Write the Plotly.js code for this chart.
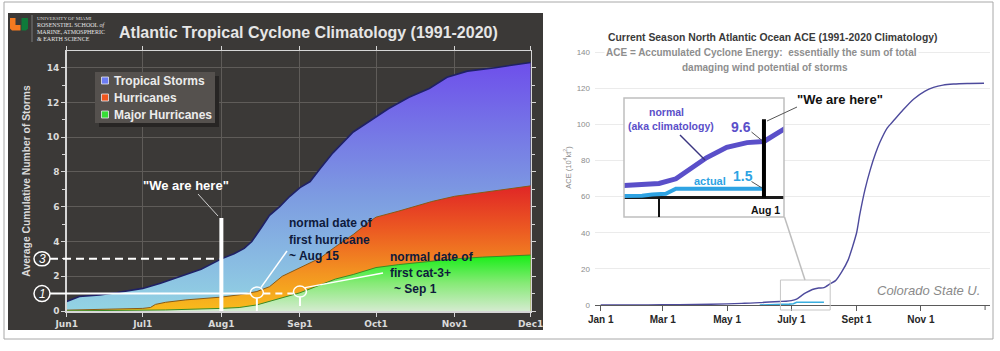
<!DOCTYPE html>
<html><head><meta charset="utf-8">
<script src="https://cdn.plot.ly/plotly-3.0.1.min.js"></script>
<style>html,body{margin:0;padding:0;background:#fff;}#chart{width:1000px;height:351px;}</style>
</head><body><div id="chart"></div>
<script>
// ---------------- Left chart: average cumulative number of storms (1991-2020) ----------------
const seriesNames = ['Tropical Storms', 'Hurricanes', 'Major Hurricanes'];
const tsDates = ['2021-06-01','2021-06-06','2021-06-14','2021-06-21','2021-07-01','2021-07-08','2021-07-16','2021-07-24','2021-08-01','2021-08-06','2021-08-10','2021-08-13','2021-08-17','2021-08-20','2021-08-24','2021-08-28','2021-09-01','2021-09-05','2021-09-09','2021-09-14','2021-09-22','2021-09-30','2021-10-06','2021-10-14','2021-10-22','2021-10-29','2021-11-06','2021-11-17','2021-12-01'];
const tsValues = [0.55,0.83,0.93,1.06,1.3,1.6,2.0,2.4,3.0,3.3,3.6,4.0,4.85,5.5,6.0,6.6,7.1,7.45,8.2,9.1,10.3,11.1,11.65,12.3,12.8,13.45,13.8,14.0,14.3];
const hurDates = ['2021-06-01','2021-06-20','2021-07-01','2021-07-04','2021-07-06','2021-07-10','2021-07-18','2021-08-01','2021-08-08','2021-08-15','2021-08-20','2021-08-25','2021-09-01','2021-09-09','2021-09-15','2021-09-22','2021-09-28','2021-10-01','2021-10-10','2021-10-23','2021-11-01','2021-11-15','2021-11-25','2021-12-01'];
const hurValues = [0.05,0.1,0.15,0.2,0.38,0.5,0.64,0.8,0.93,1.12,1.4,2.0,2.5,3.05,3.7,4.4,5.1,5.4,5.75,6.3,6.6,6.9,7.1,7.2];
const majDates = ['2021-06-01','2021-07-01','2021-07-10','2021-08-01','2021-08-08','2021-08-15','2021-08-23','2021-09-01','2021-09-09','2021-09-15','2021-09-22','2021-10-01','2021-10-10','2021-10-23','2021-11-01','2021-11-12','2021-11-25','2021-12-01'];
const majValues = [0.01,0.03,0.06,0.15,0.2,0.35,0.68,1.05,1.5,1.84,2.1,2.5,2.67,2.86,3.0,3.1,3.2,3.22];
const seriesKeyColors = ['#6c7cf4','#f0561e','#36de36'];
const leftTickDates = ['2021-06-01','2021-07-01','2021-08-01','2021-09-01','2021-10-01','2021-11-01','2021-12-01'];
const leftTickLabels = ['Jun1','Jul1','Aug1','Sep1','Oct1','Nov1','Dec1'];
const weAreHereDate = '2021-08-01';
const firstHurricaneDate = '2021-08-15';
const firstMajorDate = '2021-09-01';

// ---------------- Right chart: ACE (1991-2020 climatology) ----------------
const aceNormalDates = ['2021-01-01','2021-02-01','2021-03-01','2021-04-01','2021-05-01','2021-05-15','2021-06-01','2021-06-10','2021-06-20','2021-06-26','2021-07-01','2021-07-06','2021-07-11','2021-07-15','2021-07-21','2021-07-27','2021-08-01','2021-08-07','2021-08-12','2021-08-18','2021-08-24','2021-08-28','2021-09-01','2021-09-04','2021-09-09','2021-09-14','2021-09-19','2021-09-23','2021-09-30','2021-10-06','2021-10-15','2021-10-25','2021-11-05','2021-11-13','2021-11-22','2021-12-02','2021-12-15','2021-12-31'];
const aceNormalValues = [0,0.05,0.1,0.25,0.6,0.9,1.3,1.7,1.95,2.1,2.4,3.2,5.3,6.8,8.6,9.4,9.6,11.8,13.5,18.5,25,32,40,50,64,75,84,90,98,102,108,114,118.5,120.5,121.8,122.4,122.7,122.8];
const aceActualDates = ['2021-06-01','2021-06-19','2021-06-26','2021-06-29','2021-07-03','2021-07-06','2021-08-01'];
const aceActualValues = [0,0.1,0.3,0.5,0.65,1.5,1.5];
const rightTickDates = ['2021-01-01','2021-03-01','2021-05-01','2021-07-01','2021-09-01','2021-11-01'];
const rightTickLabels = ['Jan 1','Mar 1','May 1','July 1','Sept 1','Nov 1'];
const rightEndTickDate = '2022-01-01';
const rightYStep = 20, rightYMaxTick = 140;
const normalNow = 9.6, actualNow = 1.5;

// ---------------- geometry helpers ----------------
const W = 1000, H = 351;
const px = x => x / W;
const py = y => 1 - y / H;
function ms(s){ return Date.parse(s.length === 10 ? s + 'T00:00:00Z' : s.replace(' ', 'T') + ':00Z'); }
const LBOX = {l:66.7, r:530.7, b:311, t:51};
const LXR = ['2021-06-01','2021-12-01'], LYR = [0, 14.96];
const RBOX = {l:595, r:990, b:305, t:30};
const RXR = ['2020-12-26 14:00','2022-01-05 16:00'], RYR = [0, 152.3];
const IBOX = {l:624, r:784, b:217, t:98};
const IXR = ['2021-06-20 16:00','2021-08-06 22:00'], IYR = [-3.34, 17.04];
const lx = d => LBOX.l + (ms(d)-ms(LXR[0]))/(ms(LXR[1])-ms(LXR[0]))*(LBOX.r-LBOX.l);
const ly = v => LBOX.b - (v-LYR[0])/(LYR[1]-LYR[0])*(LBOX.b-LBOX.t);
const rx = d => RBOX.l + (ms(d)-ms(RXR[0]))/(ms(RXR[1])-ms(RXR[0]))*(RBOX.r-RBOX.l);
const ry = v => RBOX.b - (v-RYR[0])/(RYR[1]-RYR[0])*(RBOX.b-RBOX.t);

const F_SANS = 'Liberation Sans, Arial, sans-serif';
const F_VERD = 'DejaVu Sans, Verdana, sans-serif';
const F_SERIF = 'Liberation Serif, Times New Roman, serif';
const PURPLE = '#5a4fc9', LBLUE = '#2ea3e3';

// ---------------- traces ----------------
const traces = [
  {x: tsDates, y: tsValues, type:'scatter', mode:'lines', fill:'tozeroy', name: seriesNames[0],
   line:{color:'#1f2166', width:1.6},
   fillgradient:{type:'vertical', start:0, stop:14.3, colorscale:[[0,'#93d4e3'],[0.45,'#7d9de1'],[1,'#6e4feb']]},
   xaxis:'x', yaxis:'y', showlegend:false, hoverinfo:'skip'},
  {x: hurDates, y: hurValues, type:'scatter', mode:'lines', fill:'tozeroy', name: seriesNames[1],
   line:{color:'#8a5a14', width:1},
   fillgradient:{type:'vertical', start:0, stop:7.2, colorscale:[[0,'#f8bc1c'],[0.3,'#f39421'],[0.65,'#ec5a22'],[1,'#e02626']]},
   xaxis:'x', yaxis:'y', showlegend:false, hoverinfo:'skip'},
  {x: majDates, y: majValues, type:'scatter', mode:'lines', fill:'tozeroy', name: seriesNames[2],
   line:{color:'#3c8a24', width:1},
   fillgradient:{type:'vertical', start:0, stop:3.22, colorscale:[[0,'#d4ebcf'],[0.5,'#86ea76'],[1,'#16ee16']]},
   xaxis:'x', yaxis:'y', showlegend:false, hoverinfo:'skip'},
  // right main chart
  {x: aceActualDates, y: aceActualValues, type:'scatter', mode:'lines', name:'actual',
   line:{color:'#3aaedf', width:1.6}, xaxis:'x2', yaxis:'y2', showlegend:false, hoverinfo:'skip'},
  {x: aceNormalDates, y: aceNormalValues, type:'scatter', mode:'lines', name:'normal',
   line:{color:'#4d4a9c', width:1.4, shape:'spline', smoothing:0.6}, xaxis:'x2', yaxis:'y2', showlegend:false, hoverinfo:'skip'},
  // inset (magnified view of the same series)
  {x: aceActualDates, y: aceActualValues, type:'scatter', mode:'lines', name:'actual',
   line:{color:LBLUE, width:4}, xaxis:'x3', yaxis:'y3', showlegend:false, hoverinfo:'skip'},
  {x: aceNormalDates, y: aceNormalValues, type:'scatter', mode:'lines', name:'normal',
   line:{color:PURPLE, width:5}, xaxis:'x3', yaxis:'y3', showlegend:false, hoverinfo:'skip'}
];

// ---------------- shapes ----------------
function pline(x0,y0,x1,y1,color,width,dash){ return {type:'line', xref:'paper', yref:'paper', x0:px(x0), y0:py(y0), x1:px(x1), y1:py(y1), line:{color:color, width:width, dash:dash||'solid'}}; }
function prect(x0,y0,x1,y1,fill,lineColor,lw,layer){ return {type:'rect', xref:'paper', yref:'paper', x0:px(x0), y0:py(y0), x1:px(x1), y1:py(y1), fillcolor:fill, line:{color:lineColor||'rgba(0,0,0,0)', width:lw||0}, layer:layer||'above'}; }
function pcirc(cx,cy,rxp,ryp,color,w){ return {type:'circle', xref:'paper', yref:'paper', x0:px(cx-rxp), y0:py(cy+ryp), x1:px(cx+rxp), y1:py(cy-ryp), line:{color:color, width:w}, fillcolor:'rgba(0,0,0,0)'}; }
function ppath(pts, fill){ return {type:'path', xref:'paper', yref:'paper', path:'M'+pts.map(p=>px(p[0])+','+py(p[1])).join('L')+'Z', fillcolor:fill, line:{width:0}, layer:'above'}; }

const yOne = ly(1), yThree = ly(3), xH = lx(firstHurricaneDate), xM = lx(firstMajorDate), xNow = lx(weAreHereDate);
const KEY = {l:95, t:72, r:215, b:123, rows:[80.5, 97.5, 114.5], sq:105, txt:112};
const shapes = [
  prect(4,2,993,339,'rgba(0,0,0,0)','#a8a8a8',1,'below'),
  prect(8,13,543,330,'#3b3937',null,0,'below'),
  // logo
  ppath([[10,18],[15.5,18],[15.5,25],[20.5,25],[20.5,30.5],[12,30.5],[10,28.5]], '#f47a20'),
  ppath([[21.5,18],[28,18],[28,28.5],[26,30.5],[21.5,30.5]], '#0f7a3a'),
  pline(32,15,32,42,'#8a8a8a',0.8),
  // key box
  prect(KEY.l+4,KEY.t+4,KEY.r+4,KEY.b+4,'#272524',null,0,'above'),
  prect(KEY.l,KEY.t,KEY.r,KEY.b,'#55514e',null,0,'above'),
  ...KEY.rows.map((r,i) => prect(KEY.sq-3.5,r-3.5,KEY.sq+3.5,r+3.5,seriesKeyColors[i],'#e8e8f0',0.8,'above')),
  // left annotations
  {type:'line', xref:'x', yref:'y', x0:weAreHereDate, x1:weAreHereDate, y0:0, y1:5.35, line:{color:'#ffffff', width:4}},
  pline(50,yThree,xNow-2,yThree,'#ffffff',2,'8px,5px'),
  pcirc(42,yThree,8,7,'#ffffff',1.5),
  pcirc(42,yOne,8,8,'#ffffff',1.5),
  pline(50,yOne,xH-6.5,yOne,'#ffffff',2),
  pline(xH+6.5,yOne,xM-6.5,yOne,'#ffffff',2,'7px,5px'),
  pcirc(xH,yOne-1,6.5,5.5,'#ffffff',1.5),
  pcirc(xM,yOne-2,6.5,5.5,'#ffffff',1.5),
  pline(xH,yOne+4.5,xH,ly(0),'#ffffff',2),
  pline(xM,yOne+3.5,xM,ly(0)-5,'#ffffff',2),
  pline(xH+4,yOne-6,287,251,'#ffffff',1.5),
  pline(xM+5,yOne-6,383,273,'#ffffff',1.5),
  pline(198,194,218,216,'#d0d0d0',1),
  // right: end tick, zoom box + connector
  pline(rx(rightEndTickDate),RBOX.b,rx(rightEndTickDate),RBOX.b+5,'#5a5a5a',1),
  prect(rx(IXR[0]),280,rx(IXR[1]),310,'rgba(0,0,0,0)','#c6c6c6',1,'above'),
  pline(784.5,217,805,280,'#bdbdbd',1.5),
  // inset
  {type:'rect', xref:'x3', yref:'y3', x0:IXR[0], x1:IXR[1], y0:IYR[0], y1:IYR[1], fillcolor:'#ffffff', line:{width:0}, layer:'below'},
  prect(IBOX.l,IBOX.t,IBOX.r,IBOX.b,'rgba(0,0,0,0)','#bfbfbf',1.5,'above'),
  {type:'line', xref:'x3', yref:'y3', x0:weAreHereDate, x1:weAreHereDate, y0:0, y1:13.4, line:{color:'#000000', width:4}},
  {type:'line', xref:'x3', yref:'y3', x0:'2021-07-01', x1:'2021-07-01', y0:0, y1:IYR[0], line:{color:'#111111', width:2}},
  pline(680,135,705,160,'#3a3580',1.5),
  pline(751.5,132,762,140.5,'#555555',1),
  pline(751.5,181.5,762,188,'#555555',1),
  pline(797,107,767,121,'#555555',1)
];

// ---------------- annotations ----------------
function ann(x,y,text,font,opts){ return Object.assign({xref:'paper', yref:'paper', x:px(x), y:py(y), text:text, showarrow:false, xanchor:'center', yanchor:'middle', font:font}, opts||{}); }
const annotations = [
  ann(308.5,32,'Atlantic Tropical Cyclone Climatology (1991-2020)',{family:F_SANS, size:16, color:'#e6e6e6', weight:700}),
  ann(35,19,'UNIVERSITY OF MIAMI',{family:F_SERIF, size:5, color:'#dcdcdc'},{xanchor:'left'}),
  ann(35,25.5,'ROSENSTIEL SCHOOL <i>of</i>',{family:F_SERIF, size:6, color:'#e4e4e4'},{xanchor:'left'}),
  ann(35,32,'MARINE, ATMOSPHERIC',{family:F_SERIF, size:6, color:'#e4e4e4'},{xanchor:'left'}),
  ann(35,38.5,'&amp; EARTH SCIENCE',{family:F_SERIF, size:6, color:'#e4e4e4'},{xanchor:'left'}),
  ...KEY.rows.map((r,i) => ann(KEY.txt,r,seriesNames[i],{family:F_SANS, size:12, color:'#ececec', weight:700},{xanchor:'left'})),
  ann(186,185,'"We are here"',{family:F_SANS, size:13, color:'#ffffff', weight:700}),
  ann(42,yThree,'3',{family:F_SANS, size:12, color:'#ffffff', style:'italic'}),
  ann(42,yOne,'1',{family:F_SANS, size:12, color:'#ffffff', style:'italic'}),
  ann(287,223,'normal date of',{family:F_SANS, size:12, color:'#0e1a3c', weight:700},{xanchor:'left'}),
  ann(287,239.5,'first hurricane',{family:F_SANS, size:12, color:'#0e1a3c', weight:700},{xanchor:'left'}),
  ann(287,256,'~ Aug 15',{family:F_SANS, size:12, color:'#0e1a3c', weight:700},{xanchor:'left'}),
  ann(388,257,'normal date of',{family:F_SANS, size:12, color:'#0e1a3c', weight:700},{xanchor:'left'}),
  ann(388,273,'first cat-3+',{family:F_SANS, size:12, color:'#0e1a3c', weight:700},{xanchor:'left'}),
  ann(392,289,'~ Sep 1',{family:F_SANS, size:12, color:'#0e1a3c', weight:700},{xanchor:'left'}),
  // right
  ann(773,37,'Current Season North Atlantic Ocean ACE (1991-2020 Climatology)',{family:F_SANS, size:10.4, color:'#3a3a3a', weight:700},{bgcolor:'#ffffff', borderpad:1}),
  ann(761.5,52,'ACE = Accumulated Cyclone Energy:  essentially the sum of total',{family:F_SANS, size:10, color:'#8e8e8e', weight:700},{bgcolor:'#ffffff', borderpad:1}),
  ann(765,67,'damaging wind potential of storms',{family:F_SANS, size:10, color:'#8e8e8e', weight:700}),
  ann(839.5,99,'"We are here"',{family:F_SANS, size:13, color:'#111111', weight:700}),
  ann(666,112,'normal',{family:F_SANS, size:10.5, color:PURPLE, weight:700}),
  ann(671,125.5,'(aka climatology)',{family:F_SANS, size:10.5, color:PURPLE, weight:700}),
  ann(741,127,normalNow.toFixed(1),{family:F_SANS, size:14, color:PURPLE, weight:700}),
  ann(743,176,actualNow.toFixed(1),{family:F_SANS, size:14, color:LBLUE, weight:700}),
  ann(709.5,180.5,'actual',{family:F_SANS, size:11, color:LBLUE, weight:700}),
  ann(765,210,'Aug 1',{family:F_SANS, size:10.5, color:'#111111', weight:700}),
  ann(928.5,290,'Colorado State U.',{family:F_SANS, size:13, color:'#8a8a8a', style:'italic'})
];

const gridDark = '#5f5c59', axisLight = '#d6d6d6';
const layout = {
  width: W, height: H, margin:{l:0,r:0,t:0,b:0}, autosize:false,
  paper_bgcolor:'#ffffff', plot_bgcolor:'rgba(0,0,0,0)',
  showlegend:false,
  xaxis:{domain:[px(LBOX.l), px(LBOX.r)], range:LXR, type:'date', anchor:'y',
         tickvals:leftTickDates, ticktext:leftTickLabels, showgrid:true, gridcolor:gridDark, gridwidth:1,
         showline:true, linecolor:axisLight, linewidth:1.5, mirror:'ticks', ticks:'outside', ticklen:4, tickcolor:axisLight,
         tickfont:{family:F_VERD, size:9, color:'#dadada', weight:700}, zeroline:false, fixedrange:true},
  yaxis:{domain:[py(LBOX.b), py(LBOX.t)], range:LYR, anchor:'x', tick0:0, dtick:2,
         showgrid:true, gridcolor:gridDark, gridwidth:1, showline:true, linecolor:axisLight, linewidth:1.5,
         mirror:'ticks', ticks:'outside', ticklen:4, tickcolor:axisLight,
         minor:{dtick:1, ticks:'outside', ticklen:3, tickcolor:axisLight, showgrid:false},
         tickfont:{family:F_VERD, size:9, color:'#dadada', weight:700}, zeroline:false, fixedrange:true,
         title:{text:'Average Cumulative Number of Storms', font:{family:F_SANS, size:10.3, color:'#dadada', weight:700}, standoff:14}},
  xaxis2:{domain:[px(RBOX.l), px(RBOX.r)], range:RXR, type:'date', anchor:'y2',
          tickvals:rightTickDates, ticktext:rightTickLabels, showgrid:false, showline:true, linecolor:'#5a5a5a', linewidth:1,
          ticks:'outside', ticklen:5, tickcolor:'#5a5a5a', tickfont:{family:F_SANS, size:10, color:'#262626', weight:700},
          zeroline:false, fixedrange:true},
  yaxis2:{domain:[py(RBOX.b), py(RBOX.t)], range:RYR, anchor:'x2', tickmode:'linear', tick0:0, dtick:rightYStep,
          showgrid:true, gridcolor:'#ebebeb', showline:false, zeroline:false, ticks:'', ticklabelstandoff:4,
          tickfont:{family:F_SANS, size:8, color:'#8c8c8c'}, fixedrange:true,
          title:{text:'ACE (10<sup>4</sup>kt<sup>2</sup>)', font:{family:F_SANS, size:7.5, color:'#8c8c8c'}, standoff:4}},
  xaxis3:{domain:[px(IBOX.l), px(IBOX.r)], range:IXR, type:'date', anchor:'y3', showgrid:false, showline:false,
          showticklabels:false, ticks:'', zeroline:false, fixedrange:true},
  yaxis3:{domain:[py(IBOX.b), py(IBOX.t)], range:IYR, anchor:'x3', showgrid:false, showline:false,
          showticklabels:false, ticks:'', zeroline:true, zerolinecolor:'#1a1a1a', zerolinewidth:2.5, fixedrange:true},
  shapes: shapes,
  annotations: annotations
};

Plotly.newPlot('chart', traces, layout, {staticPlot:true, displayModeBar:false});
</script></body></html>
